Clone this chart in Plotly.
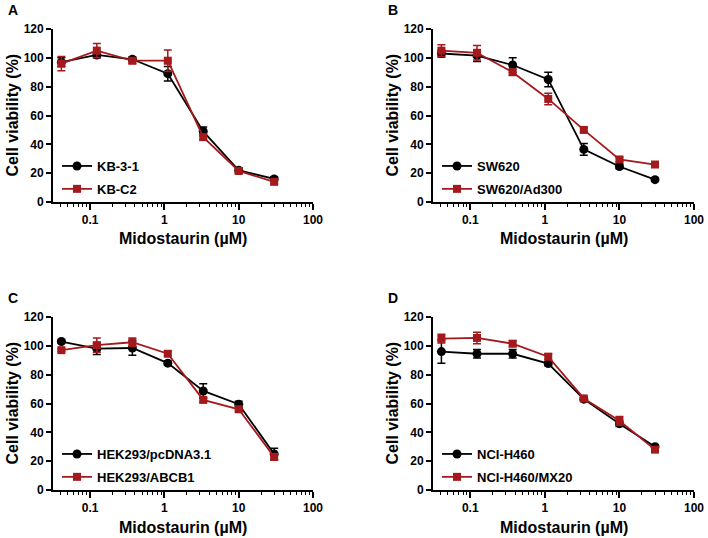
import plotly.graph_objects as go

# Concentrations (µM)
conc = [0.041, 0.123, 0.37, 1.11, 3.33, 10, 30]

# Panel A
kb31 = [97, 102, 99, 89, 49, 22, 16]
kb31_err = [3, 2, 1.5, 5, 3, 1.5, 1.5]
kbc2 = [96, 105, 98, 98, 45, 21.5, 14]
kbc2_err = [5, 5, 2, 7.5, 2, 1.5, 1.5]

# Panel B
sw620 = [103, 101.5, 95, 85, 36.5, 24.6, 15.5]
sw620_err = [2.5, 4, 5, 5, 4, 1.5, 1]
ad300 = [105, 103.5, 90, 71.5, 50, 29.5, 26]
ad300_err = [4, 5, 2, 4, 1.5, 1.5, 1.5]

# Panel C
pcdna = [103, 98, 98.5, 88, 68.7, 59.5, 25]
pcdna_err = [1, 4, 5, 1.5, 5, 2, 4]
abcb1 = [97, 100.5, 102.5, 94.5, 62.5, 56, 23]
abcb1_err = [1, 5, 3, 1.5, 1.5, 1.5, 2]

# Panel D
h460 = [96, 94.5, 94.5, 87.7, 63, 46, 30]
h460_err = [8, 3, 3, 1.5, 1, 2, 1]
mx20 = [105, 105.5, 101.5, 92.5, 63.5, 48, 28]
mx20_err = [3, 4, 2, 2, 1, 3, 1.5]

panel_letters = ["A", "B", "C", "D"]
series = [
    ("KB-3-1", kb31, kb31_err, "KB-C2", kbc2, kbc2_err),
    ("SW620", sw620, sw620_err, "SW620/Ad300", ad300, ad300_err),
    ("HEK293/pcDNA3.1", pcdna, pcdna_err, "HEK293/ABCB1", abcb1, abcb1_err),
    ("NCI-H460", h460, h460_err, "NCI-H460/MX20", mx20, mx20_err),
]
y_ticks = [0, 20, 40, 60, 80, 100, 120]
x_ticks = [0.1, 1, 10, 100]
x_ticklabels = ["0.1", "1", "10", "100"]

W, H = 708, 538
BLACK = "#000000"
RED = "#A3191C"
FONT = "Liberation Sans"

# pixel geometry of plot areas (left, right, top, bottom)
areas = [(53, 313, 29, 202), (433, 694, 29, 202), (53, 313, 317, 490), (433, 694, 317, 490)]

fig = go.Figure()
layout = dict(
    width=W, height=H, margin=dict(l=0, r=0, t=0, b=0, autoexpand=False),
    paper_bgcolor="white", plot_bgcolor="white", showlegend=True,
    font=dict(family=FONT, color="black"),
)
annotations = []

for i, (area, letter, s) in enumerate(zip(areas, panel_letters, series)):
    l, r, t, b = area
    n = "" if i == 0 else str(i + 1)
    xa, ya = "x" + n, "y" + n
    leg = "legend" + n
    name1, v1, e1, name2, v2, e2 = s
    fig.add_trace(go.Scatter(
        x=conc, y=v1, name=name1, mode="lines+markers", xaxis=xa, yaxis=ya,
        legend=leg, legendgroup=name1,
        line=dict(color=BLACK, width=1.8),
        marker=dict(symbol="circle", size=9, color=BLACK),
        error_y=dict(type="data", array=e1, color=BLACK, thickness=1.5, width=4),
    ))
    fig.add_trace(go.Scatter(
        x=conc, y=v2, name=name2, mode="lines+markers", xaxis=xa, yaxis=ya,
        legend=leg, legendgroup=name2,
        line=dict(color=RED, width=1.8),
        marker=dict(symbol="square", size=8, color=RED),
        error_y=dict(type="data", array=e2, color=RED, thickness=1.5, width=4),
    ))
    layout["xaxis" + n] = dict(
        type="log", range=[-1.5, 2], domain=[l / W, r / W], anchor=ya,
        tickvals=x_ticks, ticktext=x_ticklabels, ticks="outside", ticklen=6,
        tickwidth=1.5, tickcolor="black", showline=True, linecolor="black",
        linewidth=1.8, showgrid=False, zeroline=False, automargin=False,
        tickfont=dict(family=FONT, size=12, weight="bold", color="black"),
        minor=dict(ticks="outside", ticklen=3, tickwidth=1.2, tickcolor="black",
                   dtick="D1", showgrid=False),
    )
    layout["yaxis" + n] = dict(
        range=[0, 120], domain=[1 - b / H, 1 - t / H], anchor=xa,
        tickvals=y_ticks, ticks="outside", ticklen=5, tickwidth=1.5,
        tickcolor="black", showline=True, linecolor="black", linewidth=1.8,
        showgrid=False, zeroline=False, automargin=False,
        tickfont=dict(family=FONT, size=12, weight="bold", color="black"),
    )
    layout[leg] = dict(
        x=(l + 4) / W, y=1 - (b - 51) / H, xanchor="left", yanchor="top",
        bgcolor="rgba(0,0,0,0)", borderwidth=0, traceorder="grouped",
        tracegroupgap=3, itemwidth=30,
        font=dict(family=FONT, size=13, weight="bold", color="black"),
    )
    # panel letter
    annotations.append(dict(
        text=letter, x=(l - 47) / W, y=1 - (t - 19) / H, xref="paper", yref="paper",
        xanchor="left", yanchor="middle", showarrow=False,
        font=dict(family=FONT, size=14, weight="bold", color="black"),
    ))
    # x title
    annotations.append(dict(
        text="Midostaurin (µM)", x=(l + r) / 2 / W, y=1 - (b + 37) / H,
        xref="paper", yref="paper", xanchor="center", yanchor="middle",
        showarrow=False, font=dict(family=FONT, size=16, weight="bold", color="black"),
    ))
    # y title
    annotations.append(dict(
        text="Cell viability (%)", x=(l - 41) / W, y=1 - (t + b) / 2 / H,
        xref="paper", yref="paper", xanchor="center", yanchor="middle",
        textangle=-90, showarrow=False,
        font=dict(family=FONT, size=16, weight="bold", color="black"),
    ))

layout["annotations"] = annotations
fig.update_layout(**layout)
fig.write_html("out.html", config={"displayModeBar": False},
               post_script="document.body.style.margin='0';")
